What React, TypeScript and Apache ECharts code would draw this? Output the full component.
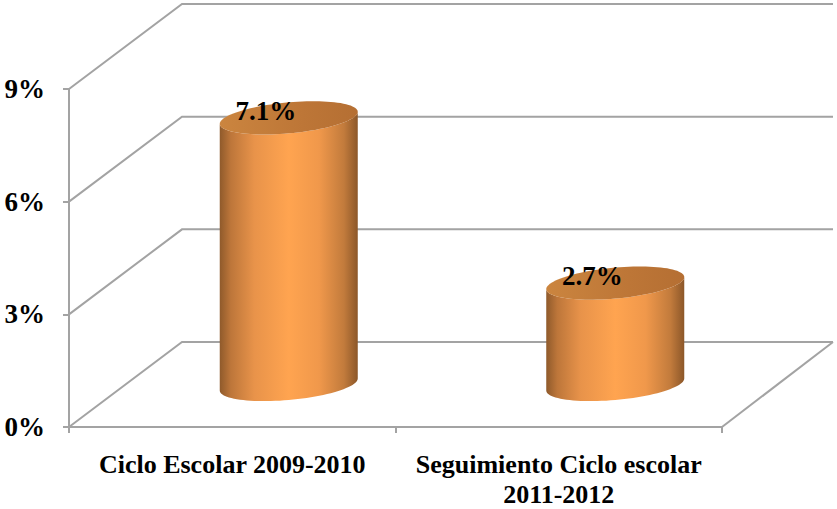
import React, { useEffect, useRef } from "react";
import * as echarts from "echarts";

const categories = ["Ciclo Escolar 2009-2010", "Seguimiento Ciclo escolar\n2011-2012"];
const values = [7.1, 2.7];
const gridValues = [0, 3, 6, 9];

const DEPTH_X = 113;
const DEPTH_Y = 85;
const RX = 69;
const SKEW = 6;
const RY = 15.5;
const GREY = "#a3a3a3";
const FONT = '"Liberation Serif", "Times New Roman", serif';

function ellipsePoint(cx: number, cy: number, t: number) {
  const c = Math.cos(t);
  const s = Math.sin(t);
  return [cx + RX * c, cy - SKEW * c + RY * s];
}

function ellipseArc(cx: number, cy: number, from: number, to: number, n = 48) {
  const pts: number[][] = [];
  for (let i = 0; i <= n; i++) {
    pts.push(ellipsePoint(cx, cy, from + ((to - from) * i) / n));
  }
  return pts;
}

function renderWall(params: any, api: any) {
  const v = api.value(0);
  const cs = params.coordSys;
  const y = api.coord([0, v])[1];
  const x0 = cs.x;
  const x1 = cs.x + cs.width;
  const style = { stroke: GREY, lineWidth: 2, fill: "none" };
  const children: any[] = [
    {
      type: "polyline",
      shape: {
        points: [
          [x0, y],
          [x0 + DEPTH_X, y - DEPTH_Y],
          [x1 + DEPTH_X - 2, y - DEPTH_Y],
        ],
      },
      style,
    },
  ];
  if (v === 0) {
    children.push({
      type: "line",
      shape: { x1, y1: y, x2: x1 + DEPTH_X - 2, y2: y - DEPTH_Y },
      style,
    });
  }
  return { type: "group", children };
}

function renderCylinder(_params: any, api: any) {
  const idx = api.value(0);
  const val = api.value(1);
  const top = api.coord([idx, val]);
  const base = api.coord([idx, 0]);
  const cx = base[0] + DEPTH_X / 2;
  const by = base[1] - DEPTH_Y / 2;
  const ty = top[1] - DEPTH_Y / 2;
  const body = [
    ...ellipseArc(cx, ty, Math.PI, 0),
    ...ellipseArc(cx, by, 0, Math.PI),
  ];
  const bodyFill = new echarts.graphic.LinearGradient(0, 0, 1, 0, [
    { offset: 0, color: "#8f5a2b" },
    { offset: 0.08, color: "#bd763a" },
    { offset: 0.25, color: "#e8934a" },
    { offset: 0.5, color: "#ffa450" },
    { offset: 0.72, color: "#f0984b" },
    { offset: 0.9, color: "#c27b3c" },
    { offset: 1, color: "#8c5729" },
  ]);
  const topFill = new echarts.graphic.LinearGradient(0, 0, 1, 0, [
    { offset: 0, color: "#cb853f" },
    { offset: 0.6, color: "#bd7637" },
    { offset: 1, color: "#b56f33" },
  ]);
  return {
    type: "group",
    children: [
      { type: "polygon", shape: { points: body }, style: { fill: bodyFill } },
      {
        type: "polygon",
        shape: { points: ellipseArc(cx, ty, 0, Math.PI * 2, 96) },
        style: { fill: topFill },
      },
      {
        type: "text",
        style: {
          x: cx - 23,
          y: ty - 7,
          text: val.toFixed(1) + "%",
          fill: "#000",
          font: `bold 27px ${FONT}`,
          align: "center",
          verticalAlign: "middle",
        },
      },
    ],
  };
}

export default function App() {
  const ref = useRef<HTMLDivElement>(null);
  useEffect(() => {
    document.body.style.margin = "0";
    document.body.style.background = "#fff";
    const chart = echarts.init(ref.current!, undefined, { renderer: "svg" });
    chart.setOption({
      animation: false,
      backgroundColor: "#fff",
      grid: { left: 69, right: 115, top: 89, bottom: 82, outerBoundsMode: "none" },
      xAxis: {
        type: "category",
        data: categories,
        boundaryGap: true,
        axisLine: { show: true, lineStyle: { color: GREY, width: 2 } },
        axisTick: { show: true, length: 6, lineStyle: { color: GREY, width: 2 } },
        axisLabel: {
          color: "#000",
          fontFamily: FONT,
          fontWeight: "bold",
          fontSize: 26,
          lineHeight: 30,
          margin: 22,
          interval: 0,
        },
      },
      yAxis: {
        type: "value",
        min: 0,
        max: 9,
        interval: 3,
        splitLine: { show: false },
        axisLine: { show: true, lineStyle: { color: GREY, width: 2 } },
        axisTick: { show: true, length: 6, lineStyle: { color: GREY, width: 2 } },
        axisLabel: {
          color: "#000",
          fontFamily: FONT,
          fontWeight: "bold",
          fontSize: 27,
          margin: 24,
          formatter: "{value}%",
        },
      },
      series: [
        {
          type: "custom",
          clip: false,
          z: 1,
          silent: true,
          renderItem: renderWall,
          data: gridValues.map((v) => [v]),
          encode: { y: 0 },
        },
        {
          type: "custom",
          clip: false,
          z: 3,
          silent: true,
          renderItem: renderCylinder,
          data: values.map((v, i) => [i, v]),
          encode: { x: 0, y: 1 },
        },
      ],
    });
    return () => chart.dispose();
  }, []);
  return <div ref={ref} style={{ width: 837, height: 509 }} />;
}
